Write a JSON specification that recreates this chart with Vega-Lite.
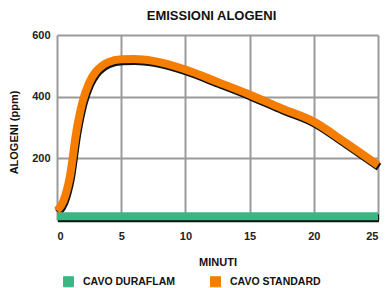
{
  "$schema": "https://vega.github.io/schema/vega-lite/v6.json",
  "autosize": {"type": "none"},
  "width": 321,
  "height": 185,
  "padding": {"left": 57, "top": 35, "right": 12, "bottom": 68},
  "background": "white",
  "title": {
    "text": "EMISSIONI ALOGENI",
    "font": "Liberation Sans",
    "fontSize": 13,
    "fontWeight": "bold",
    "color": "#111111",
    "anchor": "middle",
    "dx": -6,
    "offset": 6
  },
  "config": {
    "view": {"stroke": null},
    "font": "Liberation Sans"
  },
  "data": {
    "values": [
      {"t": 0, "v": 12, "serie": "CAVO DURAFLAM"},
      {"t": 25, "v": 12, "serie": "CAVO DURAFLAM"},
      {"t": 0, "v": 30, "serie": "CAVO STANDARD"},
      {"t": 0.5, "v": 62, "serie": "CAVO STANDARD"},
      {"t": 1, "v": 140, "serie": "CAVO STANDARD"},
      {"t": 1.5, "v": 285, "serie": "CAVO STANDARD"},
      {"t": 2, "v": 385, "serie": "CAVO STANDARD"},
      {"t": 2.5, "v": 445, "serie": "CAVO STANDARD"},
      {"t": 3, "v": 480, "serie": "CAVO STANDARD"},
      {"t": 3.5, "v": 500, "serie": "CAVO STANDARD"},
      {"t": 4, "v": 512, "serie": "CAVO STANDARD"},
      {"t": 5, "v": 521, "serie": "CAVO STANDARD"},
      {"t": 6, "v": 522, "serie": "CAVO STANDARD"},
      {"t": 7.5, "v": 516, "serie": "CAVO STANDARD"},
      {"t": 10, "v": 488, "serie": "CAVO STANDARD"},
      {"t": 12.5, "v": 448, "serie": "CAVO STANDARD"},
      {"t": 15, "v": 407, "serie": "CAVO STANDARD"},
      {"t": 17.5, "v": 362, "serie": "CAVO STANDARD"},
      {"t": 20, "v": 319, "serie": "CAVO STANDARD"},
      {"t": 22.5, "v": 250, "serie": "CAVO STANDARD"},
      {"t": 25, "v": 178, "serie": "CAVO STANDARD"}
    ]
  },
  "encoding": {
    "x": {
      "field": "t",
      "type": "quantitative",
      "scale": {"domain": [0, 25], "nice": false, "zero": false},
      "axis": {
        "title": "MINUTI",
        "values": [0, 5, 10, 15, 20, 25],
        "grid": true,
        "gridColor": "#9a9a9a",
        "gridWidth": 2,
        "gridOpacity": 1,
        "domain": false,
        "ticks": false,
        "labelPadding": 10,
        "labelFont": "Liberation Sans",
        "labelFontSize": 11,
        "labelFontWeight": "bold",
        "labelColor": "#222222",
        "titleFont": "Liberation Sans",
        "titleFontSize": 11,
        "titleFontWeight": "bold",
        "titleColor": "#111111",
        "titlePadding": 15
      }
    },
    "y": {
      "field": "v",
      "type": "quantitative",
      "scale": {"domain": [0, 600], "nice": false},
      "axis": {
        "title": "ALOGENI (ppm)",
        "values": [0, 200, 400, 600],
        "labelExpr": "datum.value == 0 ? '' : datum.label",
        "grid": true,
        "gridColor": "#9a9a9a",
        "gridWidth": 2,
        "gridOpacity": 1,
        "domain": false,
        "ticks": false,
        "labelPadding": 7,
        "labelFont": "Liberation Sans",
        "labelFontSize": 11,
        "labelFontWeight": "bold",
        "labelColor": "#222222",
        "titleFont": "Liberation Sans",
        "titleFontSize": 11,
        "titleFontWeight": "bold",
        "titleColor": "#111111",
        "titleX": -38,
        "titleY": 97,
        "titleAngle": -90,
        "titleAlign": "center",
        "titleBaseline": "bottom"
      }
    }
  },
  "layer": [
    {
      "mark": {"type": "line", "color": "#111111", "strokeWidth": 8, "strokeCap": "butt", "interpolate": "monotone", "xOffset": 1, "yOffset": 2, "clip": false},
      "encoding": {"detail": {"field": "serie"}}
    },
    {
      "mark": {"type": "line", "strokeWidth": 8, "strokeCap": "butt", "interpolate": "monotone", "clip": false},
      "encoding": {
        "color": {
          "field": "serie",
          "type": "nominal",
          "scale": {"domain": ["CAVO DURAFLAM", "CAVO STANDARD"], "range": ["#3bb583", "#f57e00"]},
          "legend": {
            "title": null,
            "orient": "none",
            "direction": "horizontal",
            "legendX": 6,
            "legendY": 241,
            "padding": 0,
            "symbolType": "square",
            "symbolSize": 100,
            "symbolStrokeWidth": 1,
            "symbolStrokeColor": "#111111",
            "labelFont": "Liberation Sans",
            "labelFontSize": 10.5,
            "labelFontWeight": "bold",
            "labelColor": "#111111",
            "labelOffset": 9,
            "columnPadding": 33,
            "encode": {
              "symbols": {
                "update": {
                  "fill": {"scale": "color", "field": "value"},
                  "fillOpacity": {"value": 1},
                  "stroke": {"value": "#111111"},
                  "strokeWidth": {"value": 1}
                }
              }
            }
          }
        }
      }
    }
  ]
}
